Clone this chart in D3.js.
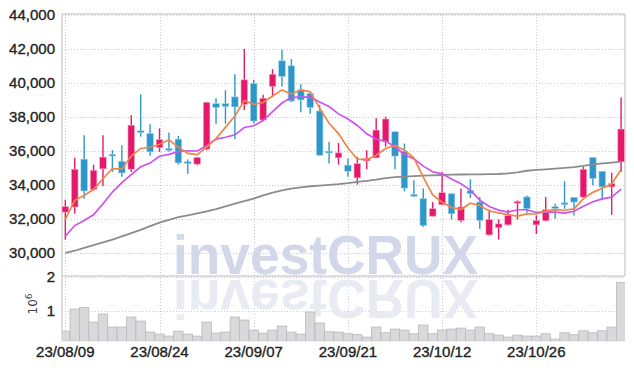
<!DOCTYPE html>
<html>
  <head>
    <meta charset="utf-8">
    <title>investCRUX candle chart</title>
    <script type="text/javascript" src="https://cdn.jsdelivr.net/npm/d3@7/dist/d3.min.js"></script>
    <style>
      body { margin: 0; background: #fff; }
      text { font-family: "Liberation Sans Narrow", "Liberation Sans", sans-serif; }
      .lbl { stroke: #222; stroke-width: 0.35; }
    </style>
  </head>
  <body>
  </body>

  <script>

    // Trading days (yy/mm/dd)
    var dates = ["23/08/09","23/08/10","23/08/11","23/08/14","23/08/16","23/08/17","23/08/18","23/08/21","23/08/22","23/08/23",
                 "23/08/24","23/08/25","23/08/28","23/08/29","23/08/30","23/08/31","23/09/01","23/09/04","23/09/05","23/09/06",
                 "23/09/07","23/09/08","23/09/11","23/09/12","23/09/13","23/09/14","23/09/15","23/09/18","23/09/19","23/09/20",
                 "23/09/21","23/09/22","23/09/25","23/09/26","23/09/27","23/10/04","23/10/05","23/10/06","23/10/10","23/10/11",
                 "23/10/12","23/10/13","23/10/16","23/10/17","23/10/18","23/10/19","23/10/20","23/10/23","23/10/24","23/10/25",
                 "23/10/26","23/10/27","23/10/30","23/10/31","23/11/01","23/11/02","23/11/03","23/11/06","23/11/07","23/11/08"];

    var open  = [32420,32720,35530,33740,34960,35820,35410,34940,37200,37040,
                 36200,36160,36710,35380,35240,36120,38790,38790,39190,38750,
                 39990,37830,39800,41310,41020,39600,39400,38360,36000,35610,
                 35180,34430,35430,35610,36550,37140,36000,33460,33210,32180,
                 32850,33500,31930,33700,33010,31080,31500,31670,32950,33310,
                 31670,31910,32740,32970,33290,33300,35630,34820,33900,35370];
    var high  = [33150,35610,36940,35210,36940,36060,36350,38130,39340,37580,
                 37340,37100,36900,35510,35670,38900,39110,39580,40520,42000,
                 40190,39310,40820,41960,41410,39930,39540,38720,36550,36490,
                 35570,35670,36060,37930,38030,37160,36450,34290,33800,33010,
                 34780,33520,33800,34350,33310,32580,31990,32560,33110,33400,
                 32220,33310,32910,34230,33300,35080,35640,34830,34740,39150];
    var low   = [30810,32320,33210,33680,33950,34780,34490,34780,36850,35730,
                 35960,35960,35210,34680,35180,36050,37610,37610,36710,38420,
                 37630,37770,39210,39800,38870,38280,38200,35750,35270,35210,
                 34490,34030,34940,35590,36260,34940,33640,33310,31540,32170,
                 32840,31990,31830,33250,31440,31050,30810,31640,31990,32380,
                 31140,31890,32030,32620,32220,33290,33990,33110,32260,34780];
    var close = [32750,34940,33660,34880,35650,35790,34720,37530,37130,35960,
                 36690,36060,35310,35320,35630,38870,38560,38620,38600,40190,
                 37770,39110,40520,40390,38950,39010,38560,35760,35920,35900,
                 34820,35270,35570,37240,37890,35710,33830,33360,31630,32620,
                 33560,32320,32720,33500,31930,31990,31730,32220,33050,32620,
                 31930,32560,32680,32870,33010,34940,34390,33900,34090,37300];

    // Moving average lines as drawn
    var ma5  = [31990,33110,33400,33760,34380,34980,34940,35710,36160,36230,
                36410,36670,36230,35870,35800,36240,36740,37400,38060,38970,
                38750,38860,39240,39600,39350,39600,39490,38530,37640,37030,
                36190,35530,35500,35760,36160,36340,36050,35610,34480,33430,
                33000,32700,32570,32940,32810,32490,32370,32270,32180,32320,
                32310,32480,32570,32530,32610,33210,33580,33820,34070,34920];
    var ma10 = [31000,31630,31930,32260,32910,33600,34150,34620,35080,35300,
                35700,35810,35970,36020,36010,36320,36710,36820,36960,37390,
                37490,37800,38320,38830,39160,39170,39170,38890,38620,38190,
                37890,37510,37020,36700,36590,36260,35790,35550,35120,34790,
                34670,34370,34090,33710,33120,32750,32540,32420,32560,32560,
                32400,32430,32420,32360,32470,32760,33030,33200,33300,33770];
    var ma60 = [30020,30150,30320,30480,30640,30800,30990,31180,31380,31600,
                31800,31960,32120,32230,32350,32470,32600,32760,32920,33070,
                33210,33400,33560,33690,33800,33870,33940,33980,34020,34060,
                34120,34200,34260,34330,34420,34470,34500,34530,34560,34580,
                34600,34620,34630,34640,34640,34650,34660,34690,34760,34850,
                34900,34930,34970,35020,35060,35140,35230,35280,35330,35380];

    var volume = [390000,1050000,1100000,660000,900000,510000,510000,810000,690000,360000,
                  300000,240000,390000,300000,240000,660000,330000,360000,810000,720000,
                  420000,330000,420000,540000,360000,300000,960000,630000,370000,360000,
                  310000,280000,210000,510000,340000,450000,420000,310000,570000,310000,
                  420000,450000,480000,420000,510000,310000,270000,210000,270000,240000,
                  240000,310000,150000,340000,280000,400000,340000,400000,510000,1850000];

    var priceTicks  = [30000,32000,34000,36000,38000,40000,42000,44000];
    var volumeTicks = [1000000,2000000];
    var dateTicks   = ["23/08/09","23/08/24","23/09/07","23/09/21","23/10/12","23/10/26"];

    var width = 634, height = 370;
    var left = 62, right = 625;
    var mainTop = 14, mainBottom = 276;
    var volTop = 277, volBottom = 341.3;

    var svg = d3.select("body").append("svg")
                .attr("width", width)
                .attr("height", height);

    // Scales
    var x = d3.scaleBand().domain(dates).range([60.6, 625.8]).padding(0);
    var cx = function (d) { return x(d) + x.bandwidth() / 2; };
    var y = d3.scaleLinear().domain([30000, 44000]).range([253.3, 15]);
    var yv = d3.scaleLinear().domain([0, 2000000]).range([344.1, 277.3]);

    svg.append("clipPath").attr("id", "clipMain")
       .append("rect").attr("x", left).attr("y", mainTop).attr("width", right - left).attr("height", mainBottom - mainTop);
    svg.append("clipPath").attr("id", "clipVol")
       .append("rect").attr("x", left).attr("y", volTop).attr("width", right - left).attr("height", volBottom - volTop);
    svg.append("clipPath").attr("id", "clipRefl")
       .append("rect").attr("x", left).attr("y", mainBottom + 2).attr("width", right - left).attr("height", 60);

    // Grid lines
    var grid = svg.append("g")
                  .attr("stroke", "#c6c9da")
                  .attr("stroke-width", 1)
                  .attr("stroke-dasharray", "1,2");

    grid.selectAll("line.h").data(priceTicks).enter().append("line")
        .attr("x1", left).attr("x2", right)
        .attr("y1", function (d) { return Math.round(y(d)) + 0.5; })
        .attr("y2", function (d) { return Math.round(y(d)) + 0.5; });

    grid.selectAll("line.vh").data(volumeTicks).enter().append("line")
        .attr("x1", left).attr("x2", right)
        .attr("y1", function (d) { return Math.round(yv(d)) + 0.5; })
        .attr("y2", function (d) { return Math.round(yv(d)) + 0.5; });

    grid.selectAll("line.v").data(dateTicks).enter().append("line")
        .attr("x1", function (d) { return Math.round(cx(d)) + 0.5; })
        .attr("x2", function (d) { return Math.round(cx(d)) + 0.5; })
        .attr("y1", mainTop).attr("y2", volBottom);

    // Watermark and its reflection (reflection drawn as a path-less clipped group)
    var wm = svg.append("g").attr("clip-path", "url(#clipMain)");
    wm.append("text")
      .attr("x", 173).attr("y", 274)
      .attr("textLength", 305).attr("lengthAdjust", "spacingAndGlyphs")
      .style("font-family", "'Liberation Sans', Arial, sans-serif")
      .style("font-weight", "bold").style("font-size", "56px")
      .style("fill", "#d2d7ea")
      .text("investCRUX");
    svg.append("g").attr("clip-path", "url(#clipRefl)")
      .append("g").attr("transform", "translate(0,554) scale(1,-1)")
      .append("text")
      .attr("x", 173).attr("y", 274)
      .attr("textLength", 305).attr("lengthAdjust", "spacingAndGlyphs")
      .style("font-family", "'Liberation Sans', Arial, sans-serif")
      .style("font-weight", "bold").style("font-size", "56px")
      .style("fill", "#e9ebf3")
      .text("investCRUX");

    // Panel borders
    var border = svg.append("g").attr("stroke", "#d2d2d6").attr("stroke-width", 1.5).attr("fill", "none");
    border.append("line").attr("x1", left).attr("x2", right).attr("y1", mainTop).attr("y2", mainTop);
    border.append("line").attr("x1", left).attr("x2", left).attr("y1", mainTop).attr("y2", volBottom);
    border.append("line").attr("x1", right).attr("x2", right).attr("y1", mainTop).attr("y2", mainBottom);
    border.append("line").attr("x1", left).attr("x2", right).attr("y1", mainBottom).attr("y2", mainBottom);

    // Volume bars
    svg.append("g").attr("clip-path", "url(#clipVol)")
       .selectAll("rect").data(dates).enter().append("rect")
       .attr("x", function (d) { return x(d); })
       .attr("width", x.bandwidth())
       .attr("y", function (d, i) { return yv(volume[i]); })
       .attr("height", function (d, i) { return volBottom - yv(volume[i]); })
       .style("fill", "#d9d9db")
       .style("stroke", "#b9b9bd")
       .style("stroke-width", 0.8);

    // Candles
    var upColor = "#e5196b", downColor = "#2e97c9";
    var candles = svg.append("g").attr("clip-path", "url(#clipMain)")
                     .selectAll("g").data(dates).enter().append("g");

    candles.append("line")
           .attr("x1", function (d) { return cx(d); })
           .attr("x2", function (d) { return cx(d); })
           .attr("y1", function (d, i) { return y(high[i]); })
           .attr("y2", function (d, i) { return y(low[i]); })
           .style("stroke", function (d, i) { return close[i] >= open[i] ? upColor : downColor; })
           .style("stroke-width", 1.4);

    candles.append("rect")
           .attr("x", function (d) { return cx(d) - 3.3; })
           .attr("width", 6.6)
           .attr("y", function (d, i) { return y(Math.max(open[i], close[i])); })
           .attr("height", function (d, i) { return Math.max(1.8, Math.abs(y(open[i]) - y(close[i]))); })
           .style("fill", function (d, i) { return close[i] >= open[i] ? upColor : downColor; })
           .style("stroke", function (d, i) { return close[i] >= open[i] ? "#f4a9c6" : "#a9d3ea"; })
           .style("stroke-width", 0.6);

    // Moving average lines
    var lineOf = function (values) {
      return d3.line()
               .x(function (d) { return cx(d); })
               .y(function (d, i) { return y(values[i]); })(dates);
    };
    var lines = svg.append("g").attr("clip-path", "url(#clipMain)").attr("fill", "none");
    lines.append("path").attr("d", lineOf(ma60)).style("stroke", "#8c8c8c").style("stroke-width", 1.8);
    lines.append("path").attr("d", lineOf(ma10)).style("stroke", "#cd52ef").style("stroke-width", 1.7);
    lines.append("path").attr("d", lineOf(ma5)).style("stroke", "#ef8548").style("stroke-width", 1.7);

    // Price labels
    svg.append("g").selectAll("text").data(priceTicks).enter().append("text")
       .attr("class", "lbl")
       .attr("x", 55)
       .attr("y", function (d) { return y(d) + 5; })
       .attr("text-anchor", "end")
       .style("font-size", "15px")
       .style("fill", "#222")
       .text(function (d) { return d3.format(",")(d); });

    // Volume labels
    svg.append("g").selectAll("text").data(volumeTicks).enter().append("text")
       .attr("class", "lbl")
       .attr("x", 55)
       .attr("y", function (d) { return yv(d) + 5; })
       .attr("text-anchor", "end")
       .style("font-size", "15px")
       .style("fill", "#222")
       .text(function (d) { return d / 1000000; });

    var unit = svg.append("text")
                  .attr("transform", "translate(37,304) rotate(-90)")
                  .attr("text-anchor", "middle")
                  .style("font-family", "'DejaVu Sans', sans-serif")
                  .style("font-size", "12px")
                  .style("fill", "#444");
    unit.append("tspan").text("10");
    unit.append("tspan").attr("dy", -5).style("font-size", "9px").text("6");

    // Date labels
    svg.append("g").selectAll("text").data(dateTicks).enter().append("text")
       .attr("class", "lbl")
       .attr("x", function (d) { return cx(d); })
       .attr("y", 357)
       .attr("text-anchor", "middle")
       .style("font-size", "15px")
       .style("fill", "#222")
       .text(function (d) { return d; });

  </script>
</html>
